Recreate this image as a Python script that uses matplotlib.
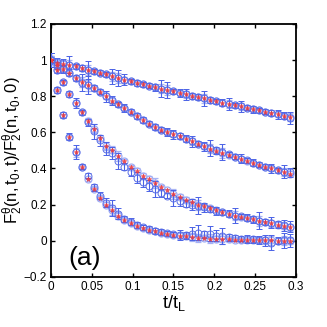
import numpy as np
import matplotlib
matplotlib.use("Agg")
import matplotlib.pyplot as plt

plt.rcParams['font.family'] = ['Liberation Sans', 'DejaVu Sans']
plt.rcParams['mathtext.fontset'] = 'custom'
plt.rcParams['mathtext.rm'] = 'Liberation Sans'
plt.rcParams['mathtext.it'] = 'Liberation Sans'

# sampling step in t/t_L
dt = 0.0075
t = np.arange(40) * dt

# red stars (one per curve)
red1 = [1.0, 0.985, 0.98, 0.975, 0.965, 0.955, 0.945, 0.938, 0.93, 0.92,
        0.91, 0.90, 0.89, 0.882, 0.874, 0.866, 0.858, 0.85, 0.842, 0.834,
        0.826, 0.818, 0.81, 0.802, 0.795, 0.788, 0.78, 0.772, 0.765, 0.757,
        0.75, 0.743, 0.736, 0.728, 0.721, 0.714, 0.706, 0.699, 0.692, 0.685]
red2 = [1.0, 0.97, 0.95, 0.93, 0.90, 0.88, 0.86, 0.845, 0.825, 0.80,
        0.775, 0.755, 0.735, 0.715, 0.69, 0.668, 0.648, 0.63, 0.615, 0.602,
        0.59, 0.577, 0.563, 0.55, 0.537, 0.524, 0.51, 0.498, 0.487, 0.475,
        0.463, 0.452, 0.442, 0.432, 0.421, 0.411, 0.40, 0.39, 0.38, 0.372]
red3 = [1.0, 0.943, 0.876, 0.813, 0.762, 0.71, 0.665, 0.62, 0.57, 0.525,
        0.505, 0.47, 0.44, 0.41, 0.385, 0.36, 0.34, 0.32, 0.295, 0.28,
        0.26, 0.245, 0.228, 0.212, 0.20, 0.19, 0.18, 0.17, 0.16, 0.15,
        0.14, 0.133, 0.125, 0.118, 0.11, 0.102, 0.096, 0.09, 0.082, 0.075]
red4 = [1.0, 0.835, 0.695, 0.575, 0.49, 0.41, 0.34, 0.285, 0.238, 0.2,
        0.17, 0.14, 0.115, 0.097, 0.082, 0.07, 0.06, 0.052, 0.045, 0.04,
        0.034, 0.028, 0.024, 0.02, 0.016, 0.014, 0.012, 0.01, 0.009, 0.008,
        0.007, 0.006, 0.005, 0.004, 0.003, 0.002, 0.002, 0.001, 0.001, 0.001]

# blue circles (one per curve)
blue1 = [1.0, 0.99, 0.985, 0.975, 0.965, 0.955, 0.945, 0.938, 0.93, 0.92,
         0.91, 0.90, 0.89, 0.882, 0.874, 0.866, 0.858, 0.85, 0.842, 0.834,
         0.826, 0.818, 0.81, 0.802, 0.795, 0.788, 0.78, 0.772, 0.765, 0.757,
         0.75, 0.743, 0.736, 0.728, 0.721, 0.714, 0.706, 0.699, 0.692, 0.68]
blue2 = [1.0, 0.97, 0.95, 0.93, 0.90, 0.875, 0.86, 0.845, 0.825, 0.80,
         0.778, 0.755, 0.735, 0.715, 0.69, 0.668, 0.648, 0.63, 0.615, 0.602,
         0.59, 0.58, 0.565, 0.55, 0.537, 0.524, 0.512, 0.5, 0.49, 0.478,
         0.466, 0.455, 0.445, 0.432, 0.421, 0.411, 0.40, 0.39, 0.382, 0.378]
blue3 = [1.0, 0.943, 0.876, 0.813, 0.762, 0.71, 0.655, 0.605, 0.555, 0.51,
         0.485, 0.44, 0.41, 0.38, 0.35, 0.325, 0.305, 0.285, 0.265, 0.25,
         0.235, 0.22, 0.205, 0.2, 0.195, 0.185, 0.176, 0.165, 0.158, 0.15,
         0.14, 0.135, 0.128, 0.12, 0.112, 0.105, 0.1, 0.092, 0.085, 0.078]
blue4 = [1.0, 0.835, 0.695, 0.575, 0.49, 0.41, 0.36, 0.295, 0.25, 0.21,
         0.18, 0.15, 0.12, 0.105, 0.088, 0.075, 0.065, 0.055, 0.048, 0.042,
         0.036, 0.032, 0.03, 0.04, 0.045, 0.035, 0.04, 0.028, 0.025, 0.02,
         0.015, 0.012, 0.01, 0.008, 0.005, 0.002, -0.01, 0.0, 0.002, 0.002]

# error bars on the blue circles
err1 = [0.04, 0.02, 0.02, 0.045, 0.015, 0.015, 0.05, 0.015, 0.015, 0.015,
        0.04, 0.045, 0.03, 0.015, 0.015, 0.015, 0.015, 0.02, 0.045, 0.045,
        0.015, 0.02, 0.03, 0.015, 0.015, 0.04, 0.015, 0.015, 0.02, 0.035,
        0.015, 0.03, 0.015, 0.02, 0.015, 0.015, 0.015, 0.025, 0.02, 0.035]
err2 = [0.04, 0.02, 0.02, 0.02, 0.015, 0.045, 0.05, 0.015, 0.015, 0.03,
        0.025, 0.015, 0.02, 0.015, 0.015, 0.015, 0.015, 0.015, 0.015, 0.02,
        0.025, 0.015, 0.02, 0.03, 0.015, 0.025, 0.045, 0.02, 0.045, 0.015,
        0.015, 0.025, 0.015, 0.02, 0.015, 0.015, 0.025, 0.015, 0.035, 0.025]
err3 = [0.04, 0.015, 0.015, 0.015, 0.03, 0.015, 0.02, 0.04, 0.03, 0.035,
        0.035, 0.045, 0.02, 0.02, 0.03, 0.025, 0.03, 0.045, 0.02, 0.015,
        0.045, 0.025, 0.02, 0.03, 0.045, 0.025, 0.015, 0.02, 0.015, 0.02,
        0.04, 0.015, 0.02, 0.02, 0.045, 0.015, 0.03, 0.02, 0.03, 0.03]
err4 = [0.04, 0.015, 0.015, 0.02, 0.04, 0.015, 0.015, 0.02, 0.02, 0.025,
        0.045, 0.03, 0.015, 0.02, 0.015, 0.015, 0.015, 0.015, 0.015, 0.015,
        0.015, 0.03, 0.02, 0.035, 0.04, 0.02, 0.04, 0.03, 0.045, 0.02,
        0.015, 0.015, 0.02, 0.02, 0.02, 0.03, 0.04, 0.02, 0.04, 0.035]

reds = [red1, red2, red3, red4]
blues = [blue1, blue2, blue3, blue4]
errs = [err1, err2, err3, err4]

fig = plt.figure(figsize=(3.27, 3.27), dpi=100)
ax = fig.add_axes([0.156, 0.153, 0.749, 0.774])

for r, b, e in zip(reds, blues, errs):
    # light blue companion set
    ax.errorbar(t, r, yerr=np.array(e) * 0.6, fmt='o', ms=5, mfc='none',
                mec='#a0acf4', color='#a8b4f4', elinewidth=0.9, capsize=2.2,
                capthick=0.9, markeredgewidth=0.9, zorder=2)
    ax.errorbar(t, b, yerr=e, fmt='o', ms=5, mfc='none', mec='#5a6ee6',
                color='#4a62e6', elinewidth=0.8, capsize=2.2, capthick=0.8,
                markeredgewidth=0.7, zorder=3)
    ax.plot(t, r, '*', ms=3.5, color='#f23a3a', mew=0.5, alpha=0.8, zorder=4)

ax.set_xlim(0, 0.3)
ax.set_ylim(-0.2, 1.2)
ax.set_xticks([0, 0.05, 0.1, 0.15, 0.2, 0.25, 0.3])
ax.set_xticklabels(['0', '0.05', '0.1', '0.15', '0.2', '0.25', '0.3'])
ax.set_yticks([-0.2, 0, 0.2, 0.4, 0.6, 0.8, 1, 1.2])
ax.set_yticklabels(['\u22120.2', '0', '0.2', '0.4', '0.6', '0.8', '1', '1.2'])
ax.tick_params(direction='in', top=True, right=True, labelsize=8.5, length=3,
               width=1, pad=3)
for s in ax.spines.values():
    s.set_linewidth(1.3)

ax.set_xlabel(r'$\mathrm{t/t_L}$', fontsize=13, labelpad=0)
ax.set_ylabel(r'$\mathrm{F_2^\theta(n,t_0,t)/F_2^\theta(n,t_0,0)}$', fontsize=12,
              labelpad=-1)
ax.text(0.021, -0.135, '(a)', fontsize=19)

fig.savefig('out.png', dpi=100)
